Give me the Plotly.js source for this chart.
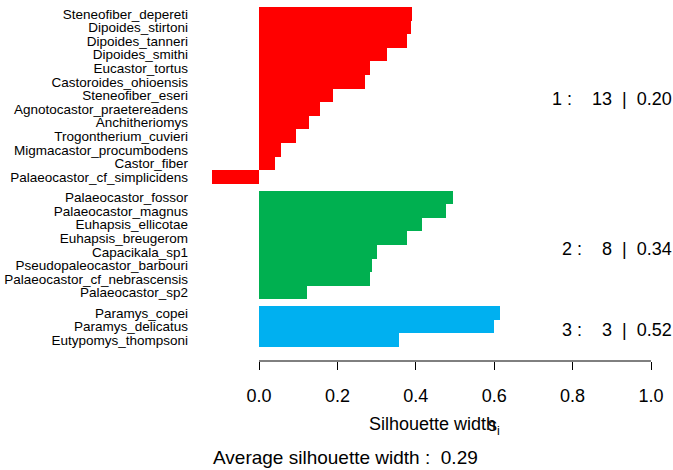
<!DOCTYPE html>
<html>
<head>
<meta charset="utf-8">
<script src="https://cdn.plot.ly/plotly-3.0.1.min.js"></script>
<style>html,body{margin:0;padding:0;background:#fff;}</style>
</head>
<body>
<div id="chart" style="width:673px;height:470px;"></div>
<script>
// ---- data (top to bottom) ----
const cluster1Names = ["Steneofiber_depereti","Dipoides_stirtoni","Dipoides_tanneri","Dipoides_smithi","Eucastor_tortus","Castoroides_ohioensis","Steneofiber_eseri","Agnotocastor_praetereadens","Anchitheriomys","Trogontherium_cuvieri","Migmacastor_procumbodens","Castor_fiber","Palaeocastor_cf_simplicidens"];
const cluster1Widths = [0.390,0.388,0.378,0.327,0.283,0.270,0.189,0.156,0.128,0.094,0.056,0.041,-0.120];
const cluster2Names = ["Palaeocastor_fossor","Palaeocastor_magnus","Euhapsis_ellicotae","Euhapsis_breugerom","Capacikala_sp1","Pseudopaleocastor_barbouri","Palaeocastor_cf_nebrascensis","Palaeocastor_sp2"];
const cluster2Widths = [0.495,0.477,0.416,0.378,0.301,0.288,0.283,0.122];
const cluster3Names = ["Paramys_copei","Paramys_delicatus","Eutypomys_thompsoni"];
const cluster3Widths = [0.615,0.600,0.357];
const clusterIds = [1,2,3];
const clusterSizes = [13,8,3];
const clusterAvgText = ["0.20","0.34","0.52"];
const clusterColors = ["#FF0000","#00B050","#00B0F0"];
const overallAvgText = "0.29";
const xTickVals = [0,0.2,0.4,0.6,0.8,1.0];
const xTickText = ["0.0","0.2","0.4","0.6","0.8","1.0"];

const groups = [
  {names: cluster1Names, w: cluster1Widths},
  {names: cluster2Names, w: cluster2Widths},
  {names: cluster3Names, w: cluster3Widths}
];

// ---- layout geometry ----
const W = 673, H = 470;
const L = 192, R = 3, T = 7, B = 109;
const plotW = W - L - R, plotH = H - T - B;
const x0px = 259, x1px = 651; // pixel positions of 0 and 1
const pxPerUnit = x1px - x0px;
const xRange = [(L - x0px) / pxPerUnit, (W - R - x0px) / pxPerUnit];
const gap = 0.5;
const nUnits = 24 + 2 * gap;
const yBarBottomPx = 347;
const unitPx = (yBarBottomPx - T) / nUnits;
const yMax = nUnits + (H - B - yBarBottomPx) / unitPx;

function px2paperX(px){ return (px - L) / plotW; }
function px2paperY(py){ return (H - B - py) / plotH; }

const traces = [];
const tickVals = [], tickText = [];
const annotations = [];
let pos = 0;
groups.forEach((g, gi) => {
  if (gi > 0) pos += gap;
  const ys = [];
  const start = pos;
  g.names.forEach((n) => { ys.push(pos + 0.5); tickVals.push(pos + 0.5); tickText.push(n); pos += 1; });
  traces.push({
    type: 'bar', orientation: 'h', x: g.w, y: ys, width: 1,
    marker: {color: clusterColors[gi], line: {width: 0}},
    hoverinfo: 'skip', showlegend: false
  });
  annotations.push({
    xref: 'paper', yref: 'y', x: 1, y: (start + pos) / 2, xanchor: 'right', yanchor: 'middle',
    yshift: -3.5, xshift: 4, showarrow: false,
    text: clusterIds[gi] + "\u00a0:\u00a0\u00a0\u00a0\u00a0" + clusterSizes[gi] + "\u00a0\u00a0|\u00a0\u00a0" + clusterAvgText[gi],
    font: {size: 18, color: '#000'}
  });
});

annotations.push({
  xref: 'paper', yref: 'paper', x: px2paperX(367), y: px2paperY(424), xanchor: 'left', yanchor: 'middle',
  showarrow: false, text: "Silhouette width", font: {size: 18, color: '#000'}
});
annotations.push({
  xref: 'paper', yref: 'paper', x: px2paperX(486), y: px2paperY(426), xanchor: 'left', yanchor: 'middle',
  showarrow: false, text: "s<sub>i</sub>", font: {size: 18, color: '#000'}
});
annotations.push({
  xref: 'paper', yref: 'paper', x: px2paperX(345), y: px2paperY(457), xanchor: 'center', yanchor: 'middle',
  showarrow: false, text: "Average silhouette width :\u00a0\u00a0" + overallAvgText, font: {size: 19, color: '#000'}
});

const layout = {
  width: W, height: H,
  margin: {l: L, r: R, t: T, b: B, pad: 0},
  paper_bgcolor: '#fff', plot_bgcolor: '#fff',
  font: {family: '"Liberation Sans", Arial, sans-serif', color: '#000'},
  bargap: 0,
  xaxis: {
    range: xRange, tickvals: xTickVals, ticktext: xTickText,
    ticks: 'outside', ticklen: 8, tickwidth: 1, tickcolor: '#000',
    showgrid: false, zeroline: false, showline: false,
    tickfont: {size: 18, color: '#000'}, ticklabelstandoff: 10, fixedrange: true
  },
  yaxis: {
    range: [yMax, 0], tickvals: tickVals, ticktext: tickText,
    ticks: '', showgrid: false, zeroline: false, showline: false,
    tickfont: {size: 13.5, color: '#000'}, ticklabelstandoff: 3, fixedrange: true
  },
  shapes: [{type: 'line', xref: 'x', yref: 'paper', x0: 0, x1: 1, y0: 0, y1: 0, line: {color: '#000', width: 1}}],
  annotations: annotations
};

Plotly.newPlot('chart', traces, layout, {displayModeBar: false, staticPlot: true});
</script>
</body>
</html>
